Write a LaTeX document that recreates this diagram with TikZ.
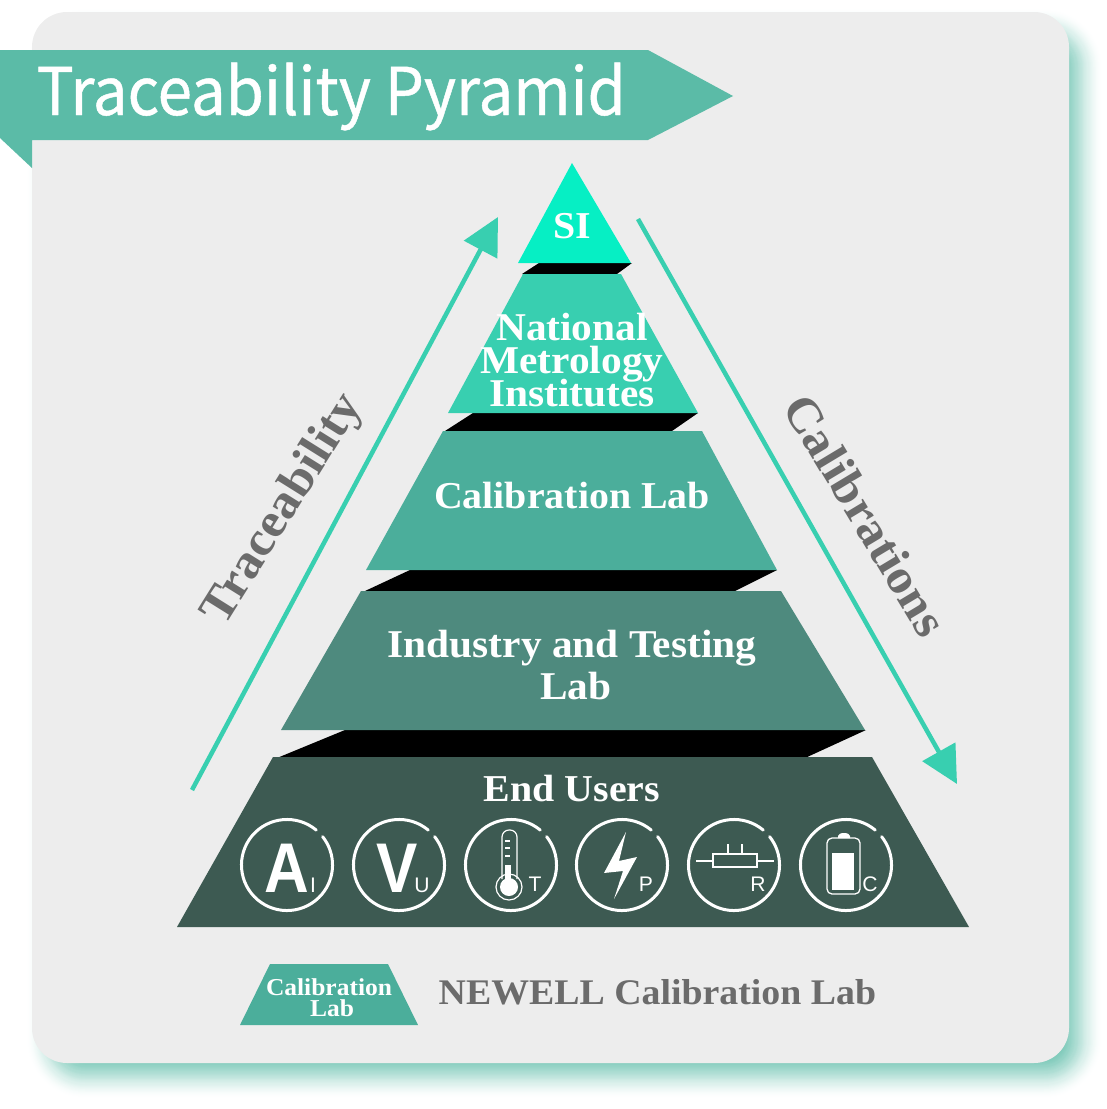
\documentclass[tikz,border=0pt]{standalone}
\usepackage{fontspec}
\usetikzlibrary{arrows.meta, positioning}
\newfontfamily\tierfont[FakeStretch=1.05]{Liberation Serif}
\newfontfamily\titlefont[FakeBold=0.7, FakeStretch=0.94]{Noto Sans CJK SC}
\newfontfamily\iconfont{Liberation Sans}
\newfontfamily\bigiconfont[FakeStretch=0.88]{Liberation Sans}
\definecolor{cardgray}{HTML}{EDEDED}
\definecolor{shadowteal}{HTML}{5BBBA7}
\definecolor{bannerteal}{HTML}{5BBBA7}
\definecolor{tierone}{HTML}{06EFC4}
\definecolor{tiertwo}{HTML}{38CFB0}
\definecolor{tierthree}{HTML}{4BAE9B}
\definecolor{tierfour}{HTML}{4E8A7E}
\definecolor{tierfive}{HTML}{3D5A52}
\definecolor{sidegray}{HTML}{6B6B6B}
\setlength{\lineskiplimit}{-10pt}

\begin{document}
\begin{tikzpicture}[
    x=0.01cm, y=-0.01cm,
    tierlabel/.style={text=white, align=center, font=\tierfont\bfseries\fontsize{10.8}{11.9}\selectfont},
    sidelabel/.style={text=sidegray, font=\tierfont\bfseries\fontsize{13.8}{16}\selectfont},
    flowarrow/.style={-{Triangle[length=0.37cm, width=0.37cm]}, draw=tiertwo, line width=0.045cm},
    ring/.style={draw=white, line width=0.03cm, line cap=round},
    iconline/.style={draw=white, line width=0.02cm},
    biglet/.style={text=white, inner sep=0pt, anchor=base, font=\bigiconfont\bfseries\fontsize{20}{20}\selectfont},
    smalllet/.style={text=white, inner sep=0pt, anchor=base, font=\iconfont\fontsize{6}{6}\selectfont},
]
\useasboundingbox (0,0) rectangle (1107,1109);

% card and its shadow
\foreach \d in {-14,-13,...,24} {
    \pgfmathsetmacro{\rad}{(35+\d)*0.01}
    \pgfmathsetmacro{\lay}{0.00184*(24-\d)+0.001}
    \fill[shadowteal, opacity=\lay, rounded corners=\rad cm] (50-\d,32-\d) rectangle (1079+\d,1075+\d);
}
\fill[cardgray, rounded corners=0.35cm] (32,12) rectangle (1069,1063);

% banner
\fill[bannerteal] (0,50) -- (648,50) -- (733,96) -- (648,140) -- (32,140) -- (32,168) -- (0,138) -- cycle;
\node[text=white, inner sep=0pt, anchor=base west, font=\titlefont\fontsize{18.7}{20}\selectfont] (title) at (36,115) {Traceability Pyramid};

% slabs
\fill[black] (539,263) -- (632,263) -- (617,274) -- (522,274) -- cycle;
\fill[black] (473,413) -- (698,413) -- (672,431) -- (445,431) -- cycle;
\fill[black] (410,570) -- (777,570) -- (735,591) -- (365,591) -- cycle;
\fill[black] (345,730) -- (866,730) -- (805,758) -- (277,758) -- cycle;

% tiers
\fill[tierone] (572,163) -- (631,263) -- (518,263) -- cycle;
\fill[tiertwo] (523,274) -- (621,274) -- (698,413) -- (448,413) -- cycle;
\fill[tierthree] (443,431) -- (702,431) -- (777,570) -- (366,570) -- cycle;
\fill[tierfour] (361,591) -- (781,591) -- (865,730) -- (281,730) -- cycle;
\fill[tierfive] (273,757) -- (872,757) -- (969,927) -- (177,927) -- cycle;

\node[tierlabel] (si) at (572,226) {SI};
\node[tierlabel, font=\tierfont\bfseries\fontsize{11.2}{9.4}\selectfont] (nmi) at (572,360) {National\\Metrology\\Institutes};
\node[tierlabel] (callab) at (572,496) {Calibration Lab};
\node[tierlabel, font=\tierfont\bfseries\fontsize{11.2}{11.9}\selectfont] (industry) at (572,665) {Industry and Testing\\\hspace*{0.08cm}Lab};
\node[tierlabel] (endusers) at (572,788) {End Users};

% side arrows
\coordinate (tracestart) at (192,790);
\coordinate (tracetip) at (498,217);
\coordinate (calstart) at (638,219);
\coordinate (caltip) at (957,784);
\draw[flowarrow] (tracestart) -- (tracetip);
\draw[flowarrow] (calstart) -- (caltip);
\node[sidelabel, rotate=58] (tracelabel) at (284,510) {Traceability};
\node[sidelabel, rotate=-59] (callabel) at (866,515) {Calibrations};

% icon rings
\foreach \cx in {287,399,511,622,734,846} {
    \draw[ring] ([shift={(50:0.455cm)}]\cx,865) arc[start angle=50, delta angle=348.5, radius=0.455cm];
}

% ampere, volt
\node[biglet] (ampere) at (287,892) {A};
\node[smalllet] (ampereI) at (313,892) {I};
\node[biglet] (volt) at (397,892) {V};
\node[smalllet] (voltU) at (422,892) {U};

% thermometer
\draw[iconline, line width=0.012cm, rounded corners=0.07cm] (502,879) -- (502,830) -- (517,830) -- (517,879);
\draw[iconline, line width=0.012cm] (509,887) circle[radius=0.13cm];
\fill[white] (509,887) circle[radius=0.09cm];
\fill[white] (505,865) rectangle (511,882);
\foreach \ty in {841,848,856} {
    \draw[iconline, line width=0.012cm] (505,\ty) -- (510,\ty);
}
\node[smalllet] (tempT) at (535,891) {T};

% bolt
\fill[white] (626,832) -- (604,873) -- (623,871) -- (614,899) -- (637,857) -- (619,861) -- cycle;
\node[smalllet] (powerP) at (646,891) {P};

% resistor
\draw[iconline] (713,854) rectangle (757,867);
\draw[iconline, line width=0.015cm] (696,861) -- (713,861);
\draw[iconline, line width=0.015cm] (757,861) -- (774,861);
\draw[iconline, line width=0.015cm] (728,854) -- (728,844);
\draw[iconline, line width=0.015cm] (742,854) -- (742,844);
\node[smalllet] (resR) at (758,891) {R};

% battery
\fill[white] (838,838) -- (838,836) arc[start angle=180, end angle=0, x radius=0.06cm, y radius=0.03cm] -- (850,838) -- cycle;
\draw[iconline, line width=0.013cm, rounded corners=0.05cm] (827,838) rectangle (860,894);
\fill[white] (832,853) rectangle (854,890);
\node[smalllet] (capC) at (870,891) {C};

% legend
\fill[tierthree] (270,964) -- (388,964) -- (418,1025) -- (240,1025) -- cycle;
\node[tierlabel, font=\tierfont\bfseries\fontsize{6.9}{6}\selectfont] (legendbox) at (329,998) {Calibration\\\hspace*{0.06cm}Lab};
\node[sidelabel, font=\tierfont\bfseries\fontsize{10.25}{12}\selectfont, inner sep=0pt, anchor=west] (legendname) at (438,992) {NEWELL Calibration Lab};
\end{tikzpicture}
\end{document}
